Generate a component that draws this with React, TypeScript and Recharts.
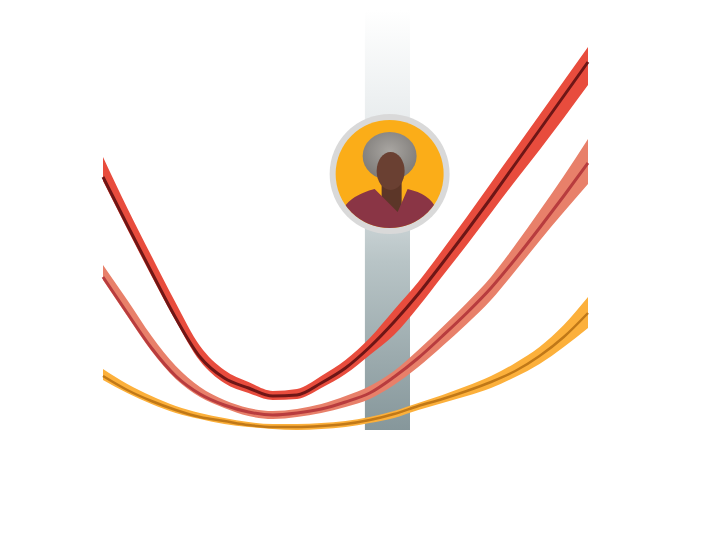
import { ComposedChart, Area, Line, XAxis, YAxis, ReferenceArea, ReferenceDot } from "recharts";

// x positions (0–100) along the horizontal axis
const xs = [0, 5, 10, 15, 20, 25, 30, 35, 40, 45, 50, 55, 60, 65, 70, 75, 80, 85, 90, 95, 100];

// top curve (red)
const redLine = [25.3, 20.5, 15.8, 11.2, 7.3, 5.2, 4.2, 3.4, 3.5, 4.7, 6.2, 8.3, 10.8, 13.6, 16.7, 19.9, 23.2, 26.6, 30.0, 33.4, 36.8];
const redHigh = [27.3, 22.2, 17.4, 12.7, 8.4, 6.0, 4.8, 3.9, 4.1, 5.4, 7.0, 9.2, 12.0, 14.8, 18.0, 21.3, 24.7, 28.1, 31.5, 34.9, 38.3];
const redLow = [24.9, 20.1, 15.4, 10.9, 6.9, 4.7, 3.7, 3.0, 3.1, 4.2, 5.6, 7.5, 9.5, 12.3, 15.4, 18.5, 21.7, 24.9, 28.0, 31.2, 34.5];

// middle curve (salmon)
const midLine = [15.3, 11.7, 8.2, 5.4, 3.6, 2.5, 1.8, 1.5, 1.7, 2.1, 2.8, 3.7, 5.3, 7.2, 9.4, 11.7, 14.2, 17.1, 20.2, 23.4, 26.7];
const midHigh = [16.5, 13.0, 9.4, 6.4, 4.3, 3.0, 2.2, 1.9, 2.1, 2.6, 3.4, 4.4, 5.9, 8.0, 10.3, 12.7, 15.3, 18.5, 21.9, 25.4, 29.1];
const midLow = [15.0, 11.4, 7.9, 5.1, 3.3, 2.2, 1.4, 1.1, 1.3, 1.7, 2.3, 3.1, 4.5, 6.3, 8.4, 10.6, 13.0, 15.9, 18.9, 21.8, 24.6];

// bottom curve (orange)
const orgLine = [5.4, 4.0, 2.9, 2.0, 1.3, 0.9, 0.5, 0.3, 0.3, 0.4, 0.6, 1.0, 1.6, 2.4, 3.1, 3.9, 4.8, 5.9, 7.4, 9.3, 11.7];
const orgHigh = [6.1, 4.6, 3.4, 2.4, 1.7, 1.2, 0.8, 0.6, 0.6, 0.7, 0.9, 1.3, 1.9, 2.7, 3.5, 4.4, 5.4, 6.7, 8.3, 10.5, 13.3];
const orgLow = [5.0, 3.7, 2.6, 1.7, 1.1, 0.6, 0.3, 0.1, 0.0, 0.1, 0.3, 0.7, 1.2, 2.0, 2.7, 3.4, 4.2, 5.3, 6.6, 8.3, 10.2];

// highlighted column and marker
const highlightX = [54.0, 63.3];
const markerPoint = { x: 59.1, y: 25.6 };

const data = xs.map((x, i) => ({
  x,
  redBand: [redLow[i], redHigh[i]],
  redLine: redLine[i],
  midBand: [midLow[i], midHigh[i]],
  midLine: midLine[i],
  orgBand: [orgLow[i], orgHigh[i]],
  orgLine: orgLine[i],
}));

const Portrait = (props: any) => {
  const { cx, cy } = props;
  if (cx == null || cy == null) return null;
  const shirt = `M ${cx - 62} ${cy + 75} L ${cx - 46} ${cy + 34} Q ${cx - 38} ${cy + 21} ${cx - 15} ${cy + 15} L ${cx + 8} ${cy + 38} L ${cx + 18} ${cy + 15} Q ${cx + 40} ${cy + 20} ${cx + 46} ${cy + 34} L ${cx + 62} ${cy + 75} Z`;
  return (
    <g>
      <defs>
        <clipPath id="portraitClip">
          <circle cx={cx} cy={cy} r={54} />
        </clipPath>
        <radialGradient id="hairFill" cx="0.5" cy="0.4" r="0.6">
          <stop offset="0%" stopColor="#a9a6a2" />
          <stop offset="100%" stopColor="#7d7a77" />
        </radialGradient>
      </defs>
      <circle cx={cx} cy={cy} r={60} fill="#d9d9d9" />
      <circle cx={cx} cy={cy} r={54} fill="#fbad18" />
      <g clipPath="url(#portraitClip)">
        <ellipse cx={cx} cy={cy - 18} rx={27} ry={24} fill="url(#hairFill)" />
        <rect x={cx - 8} y={cy + 6} width={20} height={34} fill="#5c3628" />
        <ellipse cx={cx + 1} cy={cy - 3} rx={14} ry={19} fill="#6a4032" />
        <path d={shirt} fill="#8a3545" />
      </g>
    </g>
  );
};

export default function App() {
  return (
    <ComposedChart
      width={694}
      height={519}
      data={data}
      margin={{ top: 2, right: 114, bottom: 97, left: 95 }}
    >
      <defs>
        <linearGradient id="columnFill" x1="0" y1="0" x2="0" y2="1">
          <stop offset="0%" stopColor="#ffffff" />
          <stop offset="40%" stopColor="#dde3e5" />
          <stop offset="60%" stopColor="#b8c4c6" />
          <stop offset="100%" stopColor="#86979b" />
        </linearGradient>
      </defs>
      <XAxis type="number" dataKey="x" domain={[0, 100]} hide />
      <YAxis type="number" domain={[0, 42]} hide allowDataOverflow />
      <ReferenceArea
        x1={highlightX[0]}
        x2={highlightX[1]}
        y1={0}
        y2={42}
        fill="url(#columnFill)"
        fillOpacity={1}
        stroke="none"
      />
      <Area type="monotone" dataKey="orgBand" fill="#fcb03b" fillOpacity={1} stroke="none" isAnimationActive={false} />
      <Line type="monotone" dataKey="orgLine" stroke="#c07818" strokeWidth={2.5} dot={false} activeDot={false} isAnimationActive={false} />
      <Area type="monotone" dataKey="midBand" fill="#e8806a" fillOpacity={1} stroke="none" isAnimationActive={false} />
      <Line type="monotone" dataKey="midLine" stroke="#b83c3e" strokeWidth={3} dot={false} activeDot={false} isAnimationActive={false} />
      <Area type="monotone" dataKey="redBand" fill="#e84c3d" fillOpacity={1} stroke="none" isAnimationActive={false} />
      <Line type="monotone" dataKey="redLine" stroke="#6e1616" strokeWidth={3} dot={false} activeDot={false} isAnimationActive={false} />
      <ReferenceDot x={markerPoint.x} y={markerPoint.y} shape={<Portrait />} ifOverflow="visible" />
    </ComposedChart>
  );
}
